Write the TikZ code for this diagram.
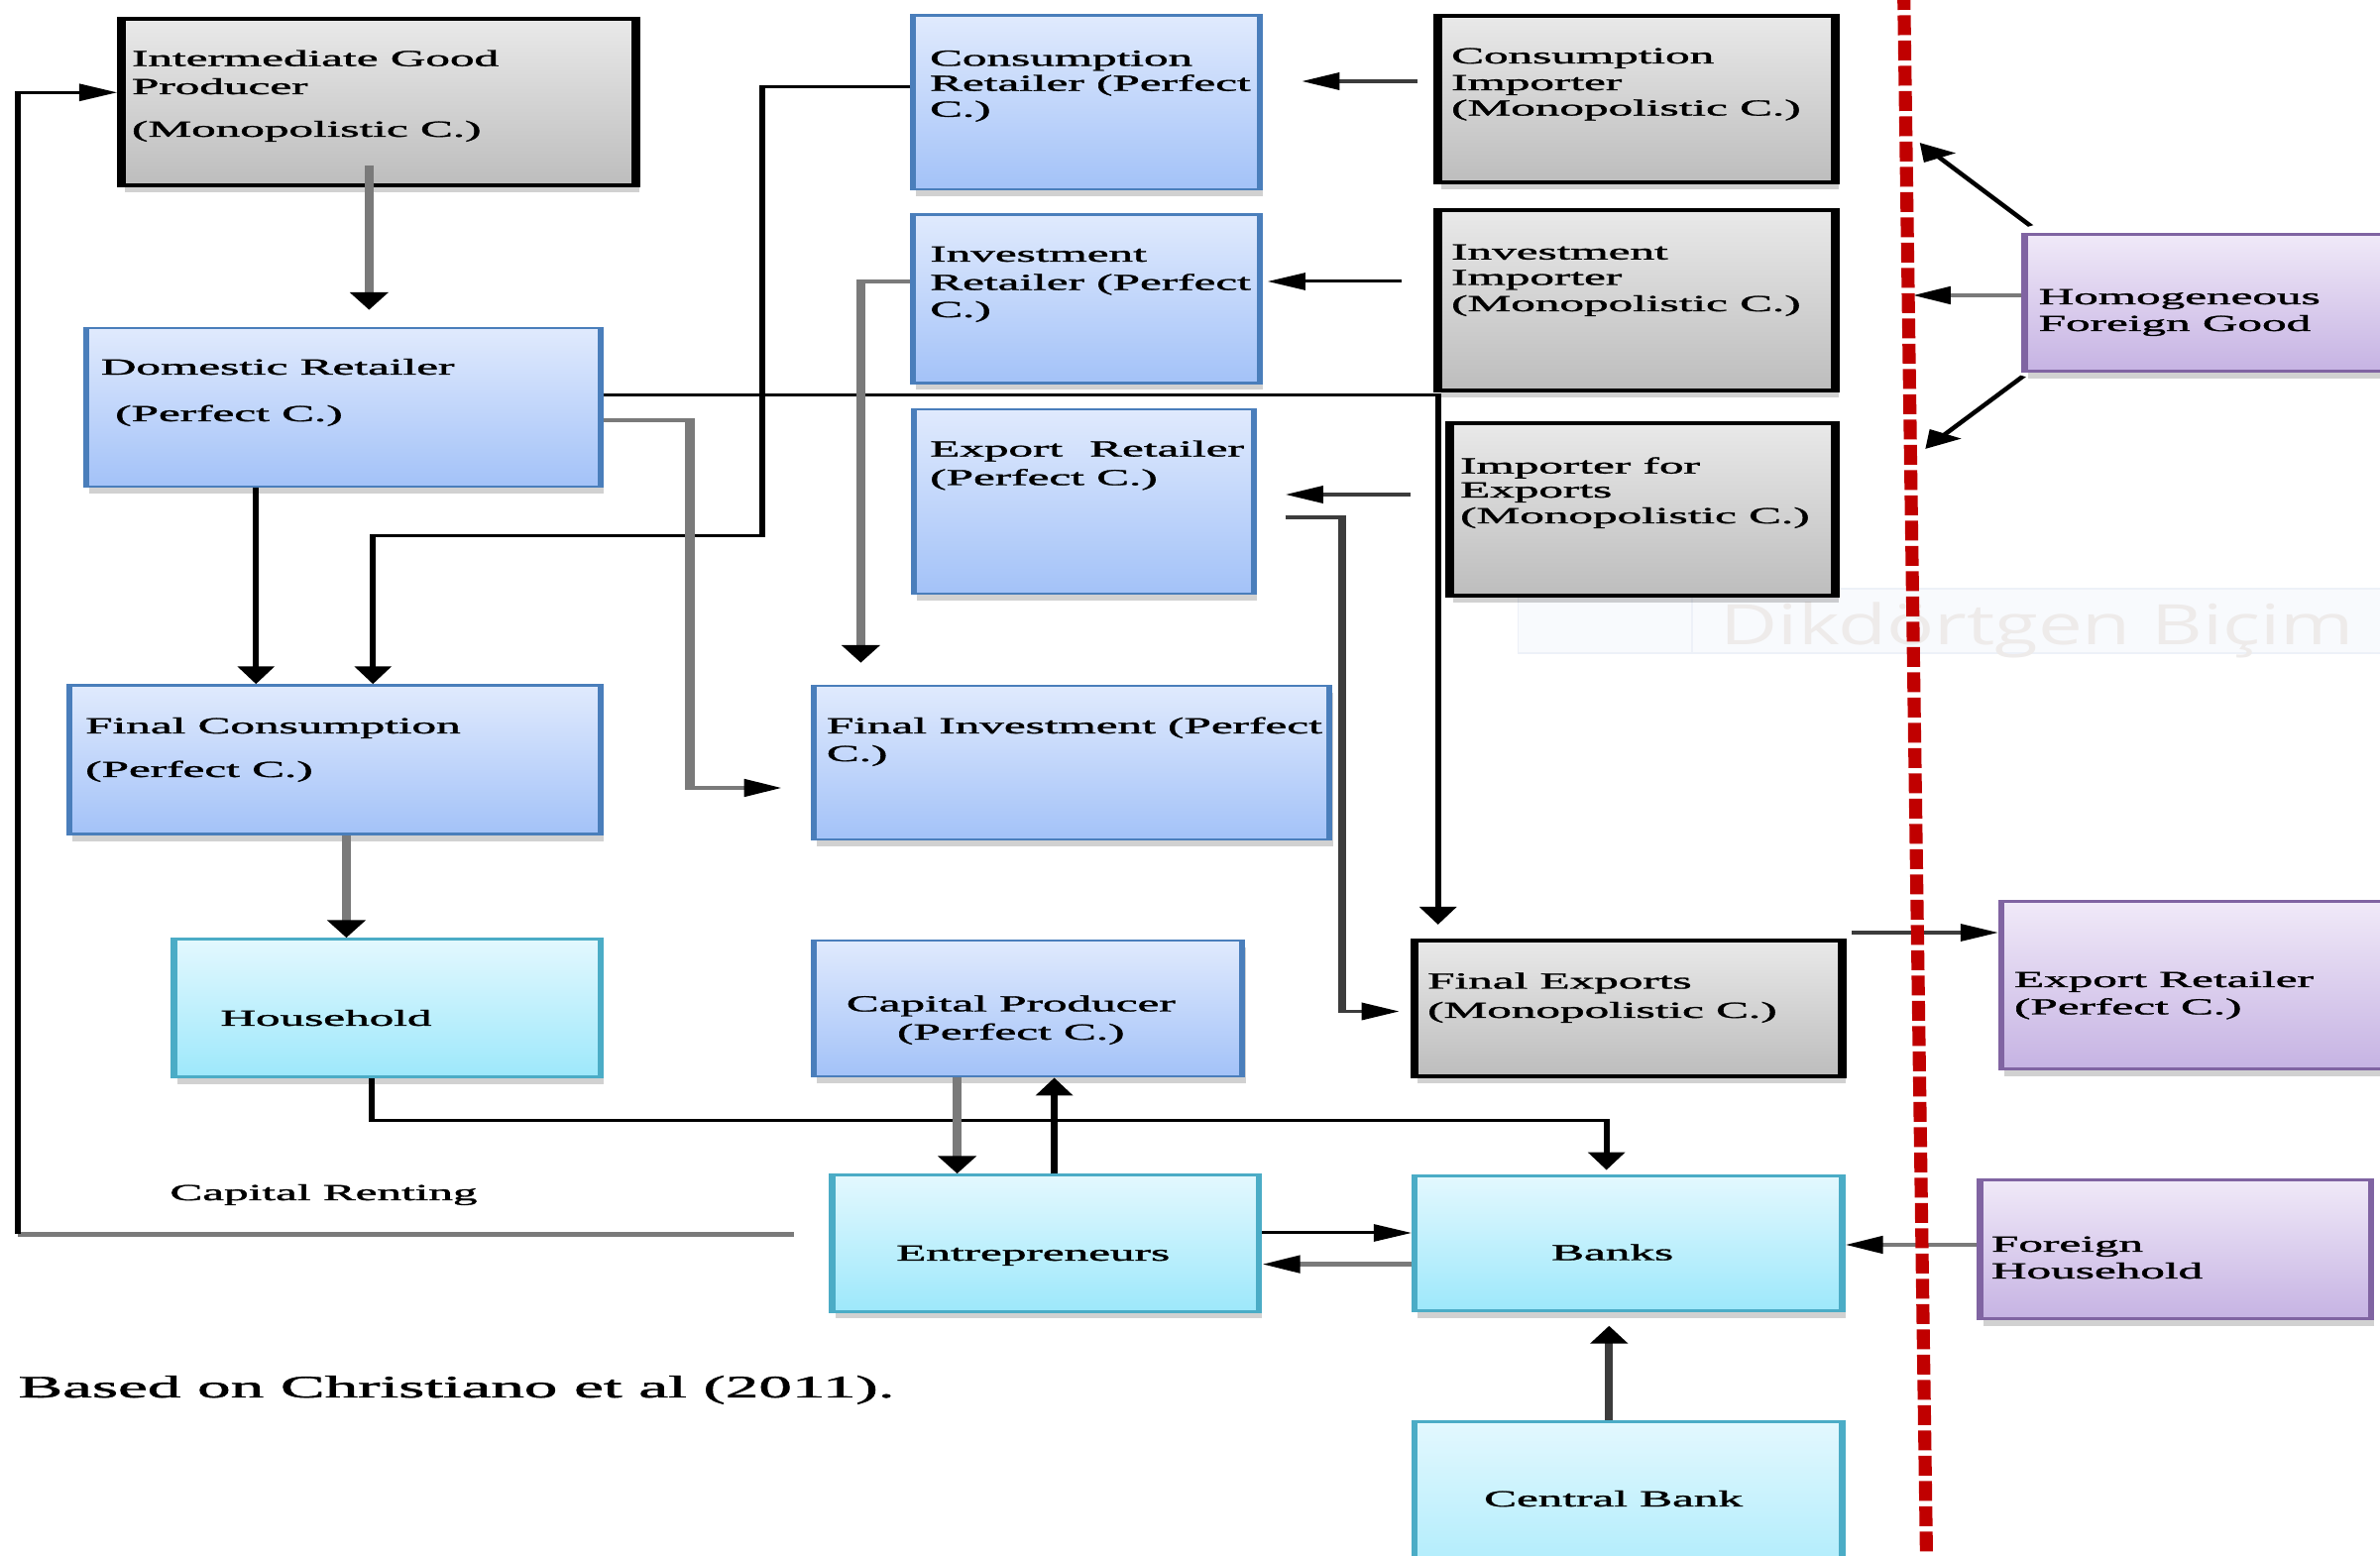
\documentclass[tikz,border=0pt]{standalone}
\usepackage{fontspec}
\setmainfont{Liberation Serif}
\newfontfamily\boxfont{Liberation Serif}[FakeBold=1.2]
\newfontfamily\wmfont{Open Sans}[FakeStretch=1.42]
\usetikzlibrary{arrows.meta,fit,shadows,calc}
\definecolor{bluetop}{HTML}{E0EAFD}
\definecolor{bluebot}{HTML}{A3C2F8}
\definecolor{blueedge}{HTML}{4A7EBB}
\definecolor{graytop}{HTML}{E9E9E9}
\definecolor{graybot}{HTML}{BDBDBD}
\definecolor{cyantop}{HTML}{E3F8FE}
\definecolor{cyanbot}{HTML}{9DE8FB}
\definecolor{cyanedge}{HTML}{4BACC6}
\definecolor{purptop}{HTML}{F0E9F8}
\definecolor{purpbot}{HTML}{C6B3E3}
\definecolor{purpedge}{HTML}{8064A2}
\definecolor{redline}{HTML}{C00000}
\definecolor{linegray}{HTML}{7A7A7A}
\definecolor{darkline}{HTML}{3C3C3C}
\definecolor{wmfill}{HTML}{F8FAFD}
\definecolor{wmedge}{HTML}{EDF1F8}
\definecolor{wmtext}{HTML}{EEEBEA}
\tikzset{
  box/.style={draw, inner sep=0pt, drop shadow={shadow xshift=0.15mm, shadow yshift=-0.7mm, opacity=0.18, fill=black}},
  bluebox/.style={box, draw=blueedge, top color=bluetop, bottom color=bluebot, line width=0.28mm},
  graybox/.style={box, draw=black, top color=graytop, bottom color=graybot, line width=0.4mm},
  cyanbox/.style={box, draw=cyanedge, top color=cyantop, bottom color=cyanbot, line width=0.3mm},
  purplebox/.style={box, draw=purpedge, top color=purptop, bottom color=purpbot, line width=0.3mm},
  txt/.style={inner sep=0pt, anchor=base west, font=\boxfont\fontsize{6.6pt}{8pt}\selectfont},
  ctxt/.style={txt, anchor=base},
  tip/.style={-{Triangle[length=1.8mm,width=1.7mm,color=black]}},
  thinblk/.style={draw=black, line width=0.3mm},
  thickgry/.style={draw=linegray, line width=0.45mm},
  midgry/.style={draw=darkline, line width=0.36mm}
}
\begin{document}
\begin{tikzpicture}[x=0.1mm,y=-0.1mm]
\useasboundingbox (0,0) rectangle (2401,1570);
\fill[white] (0,0) rectangle (2401,1570);
% faint overlay box and text
\draw[draw=wmedge, fill=wmfill, line width=0.15mm] (1531.6,594) rectangle (2470,659);
\draw[draw=wmedge, line width=0.15mm] (1707,594) -- (1707,659);
\node[font=\wmfont\fontsize{16pt}{19pt}\selectfont, text=wmtext, anchor=base west, inner sep=0pt] (wm) at (1735,651) {Dikdörtgen Biçim};
\begin{scope}[transform canvas={xscale=2.12}, x=0.04717mm, y=-0.1mm]
% boxes
\node[graybox, fit={(122.4,19.3)(641.8,187.3)}] (igp) {};
\node[bluebox, fit={(86.7,331)(606,491)}] (dr) {};
\node[bluebox, fit={(921.4,15.8)(1271.4,191)}] (cr) {};
\node[graybox, fit={(1451,15.8)(1852,184)}] (ci) {};
\node[bluebox, fit={(921.4,216.7)(1271.4,386.3)}] (ir) {};
\node[graybox, fit={(1451,212)(1852,394)}] (ii) {};
\node[bluebox, fit={(922,413)(1265,599)}] (er) {};
\node[graybox, fit={(1463,427)(1852,601.5)}] (ife) {};
\node[bluebox, fit={(70,691.7)(606,841.7)}] (fc) {};
\node[bluebox, fit={(821,692)(1341.6,847)}] (fi) {};
\node[cyanbox, fit={(175.4,948)(605.9,1087)}] (hh) {};
\node[bluebox, fit={(821,949)(1253.6,1086)}] (cp) {};
\node[graybox, fit={(1427.5,949)(1858.7,1086)}] (fe) {};
\node[cyanbox, fit={(839.5,1186)(1270.5,1323.5)}] (ent) {};
\node[cyanbox, fit={(1427.5,1186.5)(1858.7,1323)}] (bk) {};
\node[cyanbox, fit={(1427.5,1434.5)(1858.7,1640)}] (cb) {};
\node[purplebox, fit={(2043,236.7)(2470,375)}] (hfg) {};
\node[purplebox, fit={(2019.5,910)(2470,1079)}] (erf) {};
\node[purplebox, fit={(1998,1191)(2392.7,1330.7)}] (fh) {};
% texts
\node[txt] (tigp1) at (131.6,66.7) {Intermediate Good};
\node[txt] (tigp2) at (131.6,95) {Producer};
\node[txt] (tigp3) at (131.6,138) {(Monopolistic C.)};
\node[txt] (tdr1) at (100.5,378) {Domestic Retailer};
\node[txt] (tdr2) at (114.8,425) {(Perfect C.)};
\node[txt] (tcr1) at (936.8,66.4) {Consumption};
\node[txt] (tcr2) at (936.8,91.7) {Retailer (Perfect};
\node[txt] (tcr3) at (936.8,117.8) {C.)};
\node[txt] (tci1) at (1463,64) {Consumption};
\node[txt] (tci2) at (1463,91) {Importer};
\node[txt] (tci3) at (1463,116.6) {(Monopolistic C.)};
\node[txt] (tir1) at (937,264) {Investment};
\node[txt] (tir2) at (937,292.6) {Retailer (Perfect};
\node[txt] (tir3) at (937,320) {C.)};
\node[txt] (tii1) at (1463,261.8) {Investment};
\node[txt] (tii2) at (1463,287.5) {Importer};
\node[txt] (tii3) at (1463,314) {(Monopolistic C.)};
\node[txt] (ter1) at (937,460.6) {Export\hspace{0.3em} Retailer};
\node[txt] (ter2) at (937,489.5) {(Perfect C.)};
\node[txt] (tife1) at (1472,477.7) {Importer for};
\node[txt] (tife2) at (1472,502) {Exports};
\node[txt] (tife3) at (1472,528) {(Monopolistic C.)};
\node[txt] (tfc1) at (84.8,740) {Final Consumption};
\node[txt] (tfc2) at (84.8,784) {(Perfect C.)};
\node[txt] (tfi1) at (832.6,740) {Final Investment (Perfect};
\node[txt] (tfi2) at (832.6,768) {C.)};
\node[txt] (thh) at (221,1035) {Household};
\node[ctxt] (tcp1) at (1020,1020.5) {Capital Producer};
\node[ctxt] (tcp2) at (1020,1049) {(Perfect C.)};
\node[txt] (tfe1) at (1439,997.5) {Final Exports};
\node[txt] (tfe2) at (1439,1027) {(Monopolistic C.)};
\node[txt] (tent) at (903,1272) {Entrepreneurs};
\node[txt] (tbk) at (1564,1271.5) {Banks};
\node[txt] (tcb) at (1496,1520) {Central Bank};
\node[txt] (thfg1) at (2055.6,307) {Homogeneous};
\node[txt] (thfg2) at (2055.6,334) {Foreign Good};
\node[txt] (terf1) at (2031,996) {Export Retailer};
\node[txt] (terf2) at (2031,1023.5) {(Perfect C.)};
\node[txt] (tfh1) at (2008,1263) {Foreign};
\node[txt] (tfh2) at (2008,1290) {Household};
\node[txt] (tcrent) at (170,1211) {Capital Renting};
\node[txt, font=\boxfont\fontsize{9pt}{11pt}\selectfont] (tsrc) at (17,1410) {Based on Christiano et al (2011).};
% helper coordinates
\coordinate (c1a) at (372.4,167);
\coordinate (c1b) at (372.4,313);
\coordinate (x2) at (258.3,0);
\coordinate (c3a) at (769,88);
\coordinate (c3b) at (769,541);
\coordinate (c3c) at (376.3,541);
\coordinate (c4a) at (1451,399);
\coordinate (c4b) at (1451,933);
\coordinate (c5a) at (696.4,424);
\coordinate (c5b) at (696.4,795);
\coordinate (c5c) at (789,795);
\coordinate (c6a) at (868.6,284);
\coordinate (c6b) at (868.6,669);
\coordinate (c7a) at (1430,82);
\coordinate (c7b) at (1313.5,82);
\coordinate (c8a) at (1414,284);
\coordinate (c8b) at (1279,284);
\coordinate (c9a) at (1423,499);
\coordinate (c9b) at (1297,499);
\coordinate (c10a) at (1297,522);
\coordinate (c10b) at (1354,522);
\coordinate (c10c) at (1354,1020.5);
\coordinate (c10d) at (1412,1020.5);
\coordinate (x11) at (349.5,0);
\coordinate (c12a) at (375,1131);
\coordinate (c12b) at (1621,1131);
\coordinate (c12c) at (1621,1180.6);
\coordinate (x13) at (965.8,0);
\coordinate (x14) at (1063.8,0);
\coordinate (y15) at (0,1244);
\coordinate (y16) at (0,1275.6);
\coordinate (y17) at (0,1256);
\coordinate (c18) at (1623.6,1337.6);
\coordinate (c19a) at (1868.7,941);
\coordinate (c20a) at (801,1245.4);
\coordinate (c20b) at (18,1245.4);
\coordinate (c20c) at (18,93.3);
\coordinate (h1a) at (2049,228);
\coordinate (h1b) at (1937,144);
\coordinate (h2b) at (1930,298);
\coordinate (h3a) at (2041.5,379.5);
\coordinate (h3b) at (1942.6,453);
\coordinate (r1) at (1921,-10);
\coordinate (r2) at (1944,1580);
% connectors
\draw[thickgry, tip] (c1a) -- (c1b);
\draw[thinblk, tip] (dr.south -| x2) -- (fc.north -| x2);
\draw[thinblk, tip] (cr.west |- c3a) -- (c3a) -- (c3b) -- (c3c) -- (fc.north -| c3c);
\draw[thinblk, tip] (dr.east |- c4a) -- (c4a) -- (c4b);
\draw[thickgry, tip] (dr.east |- c5a) -- (c5a) -- (c5b) -- (c5c);
\draw[thickgry, tip] (ir.west |- c6a) -- (c6a) -- (c6b);
\draw[midgry, tip] (c7a) -- (c7b);
\draw[thinblk, tip] (c8a) -- (c8b);
\draw[midgry, tip] (c9a) -- (c9b);
\draw[midgry, tip] (c10a) -- (c10b) -- (c10c) -- (c10d);
\draw[thickgry, tip] (fc.south -| x11) -- (hh.north -| x11);
\draw[thinblk, tip] (hh.south -| c12a) -- (c12a) -- (c12b) -- (c12c);
\draw[thickgry, tip] (cp.south -| x13) -- (ent.north -| x13);
\draw[thinblk, tip] (ent.north -| x14) -- (cp.south -| x14);
\draw[thinblk, tip] (ent.east |- y15) -- (bk.west |- y15);
\draw[thickgry, tip] (bk.west |- y16) -- (ent.east |- y16);
\draw[thickgry, tip] (fh.west |- y17) -- (bk.east |- y17);
\draw[midgry, tip] (cb.north -| c18) -- (c18);
\draw[midgry, tip] (c19a) -- (erf.west |- c19a);
\draw[thickgry] (c20a) -- (c20b);
\draw[thinblk, tip] (c20b) -- (c20c) -- (igp.west |- c20c);
\draw[thinblk, tip] (h1a) -- (h1b);
\draw[thickgry, tip] (hfg.west |- h2b) -- (h2b);
\draw[thinblk, tip] (h3a) -- (h3b);
% border line
\draw[draw=redline, line width=0.62mm, dash pattern=on 2mm off 0.55mm] (r1) -- (r2);
\end{scope}
\end{tikzpicture}
\end{document}
